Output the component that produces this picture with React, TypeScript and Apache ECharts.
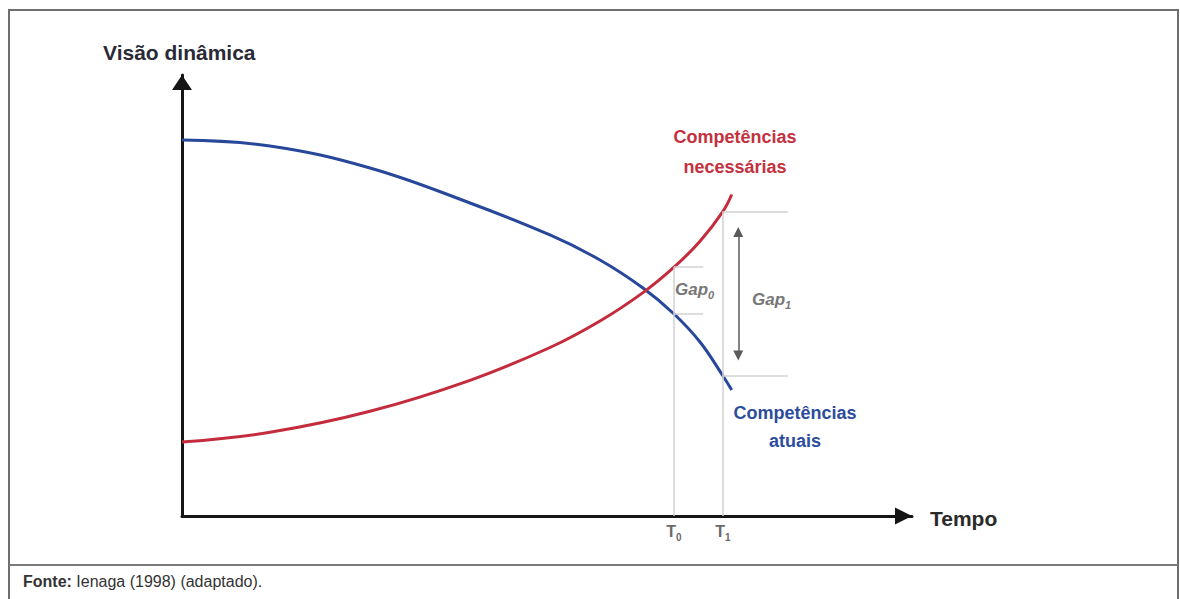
import React, { useEffect, useRef } from "react";
import * as echarts from "echarts";

// ---- data (conceptual chart) ----
const timePoints = [0, 12.05, 25.75, 39.45, 50.41, 57.26, 63.15, 67.4, 70.96, 74.11, 75.3];
const currentCompetences = [85.26, 83.9, 78.91, 70.98, 63.72, 58.05, 51.7, 45.8, 39.46, 31.75, 28.57];
const requiredCompetences = [16.78, 18.98, 23.74, 30.77, 38.21, 44.22, 50.66, 56.42, 62.31, 69.09, 72.9];
const timeMarks = [67.4, 74.11]; // T0, T1
const timeMarkSubs = ["0", "1"];
const gap0Range = [45.8, 56.42];
const gap1Range = [31.75, 69.09];
const gapBracketEnds = [71.4, 83.0];
const gapArrowX = 76.2;
const gapArrowRange = [36.4, 64.4];

const FONT = "'Liberation Sans', Arial, Helvetica, sans-serif";

function txt(x: number, y: number, text: string, opts: any = {}) {
  const align = opts.align || "left";
  return {
    type: "text",
    x,
    y,
    silent: true,
    style: {
      text,
      fill: opts.color || "#333",
      font: `${opts.italic ? "italic " : ""}${opts.weight || "bold"} ${opts.size || 16}px ${FONT}`,
      align,
      textAlign: align,
      verticalAlign: "middle",
      textVerticalAlign: "middle",
      lineHeight: opts.lineHeight,
      rich: opts.rich,
    },
  };
}

function subRich(color: string, size: number, italic: boolean) {
  const style = italic ? "italic" : "normal";
  return {
    m: { fill: color, color, fontSize: size, fontWeight: "bold", fontStyle: style, fontFamily: FONT, lineHeight: 22, verticalAlign: "middle" },
    s: { fill: color, color, fontSize: Math.round(size * 0.62), fontWeight: "bold", fontStyle: style, fontFamily: FONT, lineHeight: 10, verticalAlign: "bottom" },
  };
}

export default function App() {
  const ref = useRef<HTMLDivElement>(null);

  useEffect(() => {
    if (!ref.current) return;
    const chart = echarts.init(ref.current, null, { renderer: "svg" });

    const blue = timePoints.map((t, i) => [t, currentCompetences[i]]);
    const red = timePoints.map((t, i) => [t, requiredCompetences[i]]);

    const guideLines: any[] = [
      [{ coord: [timeMarks[0], 0] }, { coord: [timeMarks[0], gap0Range[1]] }],
      [{ coord: [timeMarks[1], 0] }, { coord: [timeMarks[1], gap1Range[1]] }],
      [{ coord: [timeMarks[0], gap0Range[0]] }, { coord: [gapBracketEnds[0], gap0Range[0]] }],
      [{ coord: [timeMarks[0], gap0Range[1]] }, { coord: [gapBracketEnds[0], gap0Range[1]] }],
      [{ coord: [timeMarks[1], gap1Range[0]] }, { coord: [gapBracketEnds[1], gap1Range[0]] }],
      [{ coord: [timeMarks[1], gap1Range[1]] }, { coord: [gapBracketEnds[1], gap1Range[1]] }],
    ];

    const option: any = {
      animation: false,
      backgroundColor: "#ffffff",
      grid: { left: 182, right: 268, top: 75, bottom: 83 },
      xAxis: {
        type: "value",
        min: 0,
        max: 100,
        splitLine: { show: false },
        axisTick: { show: false },
        axisLine: {
          show: true,
          onZero: false,
          symbol: ["none", "triangle"],
          symbolSize: [17, 17],
          symbolOffset: [0, -8.5],
          lineStyle: { color: "#151515", width: 3 },
        },
        axisLabel: {
          show: true,
          customValues: timeMarks,
          margin: 4,
          formatter: (v: number) => {
            let idx = 0;
            let best = Infinity;
            timeMarks.forEach((t, i) => {
              if (Math.abs(t - v) < best) {
                best = Math.abs(t - v);
                idx = i;
              }
            });
            return `{m|T}{s|${timeMarkSubs[idx]}}`;
          },
          rich: subRich("#6a6a6a", 16, false),
        },
      },
      yAxis: {
        type: "value",
        min: 0,
        max: 100,
        splitLine: { show: false },
        axisTick: { show: false },
        axisLabel: { show: false },
        axisLine: {
          show: true,
          onZero: false,
          symbol: ["none", "triangle"],
          symbolSize: [20, 15],
          symbolOffset: [0, -7.5],
          lineStyle: { color: "#151515", width: 3 },
        },
      },
      series: [
        {
          type: "line",
          name: "guides",
          data: [],
          silent: true,
          markLine: {
            silent: true,
            symbol: ["none", "none"],
            label: { show: false },
            lineStyle: { color: "#d2d2d2", width: 1.5, type: "solid" },
            emphasis: { disabled: true },
            data: guideLines,
          },
          z: 1,
        },
        {
          type: "line",
          name: "gapArrow",
          data: [],
          silent: true,
          markLine: {
            silent: true,
            symbol: ["triangle", "triangle"],
            symbolSize: 10,
            label: { show: false },
            lineStyle: { color: "#5a5a5a", width: 1.5, type: "solid" },
            emphasis: { disabled: true },
            data: [[{ coord: [gapArrowX, gapArrowRange[0]] }, { coord: [gapArrowX, gapArrowRange[1]] }]],
          },
          z: 2,
        },
        {
          type: "line",
          name: "Competências atuais",
          data: blue,
          smooth: 0.4,
          symbol: "none",
          silent: true,
          lineStyle: { color: "#27479a", width: 3 },
          z: 3,
        },
        {
          type: "line",
          name: "Competências necessárias",
          data: red,
          smooth: 0.4,
          symbol: "none",
          silent: true,
          lineStyle: { color: "#c42c3d", width: 3 },
          z: 4,
        },
      ],
      graphic: [
        {
          type: "rect",
          silent: true,
          shape: { x: 9, y: 10, width: 1169, height: 620 },
          style: { fill: "none", stroke: "#6e6e6e", lineWidth: 2 },
          z: -1,
        },
        {
          type: "line",
          silent: true,
          shape: { x1: 9, y1: 565, x2: 1178, y2: 565 },
          style: { stroke: "#7a7a7a", lineWidth: 2 },
        },
        txt(103, 52, "Visão dinâmica", { size: 21, color: "#2a2a36" }),
        txt(930, 518, "Tempo", { size: 21, color: "#2a2a2a" }),
        txt(735, 152, "Competências\nnecessárias", { size: 18, color: "#c4303e", align: "center", lineHeight: 30 }),
        txt(795, 427, "Competências\natuais", { size: 18, color: "#2c4c9c", align: "center", lineHeight: 28 }),
        txt(675, 289, "{m|Gap}{s|0}", { size: 17, color: "#777", italic: true, rich: subRich("#777777", 17, true) }),
        txt(752, 299, "{m|Gap}{s|1}", { size: 17, color: "#777", italic: true, rich: subRich("#777777", 17, true) }),
        txt(23, 581, "{b|Fonte:} {r|Ienaga (1998) (adaptado).}", {
          size: 16,
          rich: {
            b: { fill: "#333", color: "#333", fontSize: 16, fontWeight: "bold", fontFamily: FONT },
            r: { fill: "#333", color: "#333", fontSize: 16, fontWeight: "normal", fontFamily: FONT },
          },
        }),
      ],
    };

    chart.setOption(option);
    return () => chart.dispose();
  }, []);

  return (
    <div
      ref={ref}
      style={{ position: "fixed", left: 0, top: 0, width: 1180, height: 599, background: "#fff" }}
    />
  );
}
